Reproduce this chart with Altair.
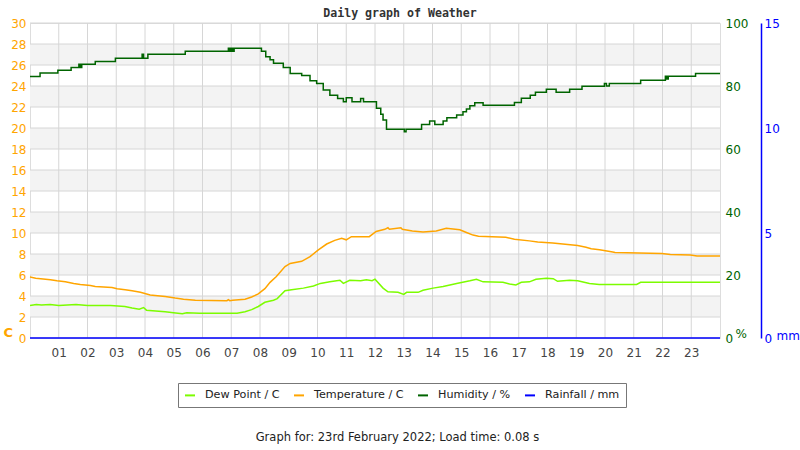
import altair as alt
import pandas as pd

# ---- data ----
hum_t = [0.0, 0.35, 0.97, 1.43, 1.7, 1.75, 1.8, 2.27, 2.97, 3.9, 3.95, 4.1, 5.4, 6.9, 6.95, 7.0, 7.05, 7.1, 7.3,
         8.05, 8.2, 8.35, 8.47, 8.81, 9.05, 9.45, 9.74, 9.97, 10.2, 10.43, 10.7, 10.9, 11.0, 11.2, 11.5, 11.6,
         12.05, 12.2, 12.28, 12.4, 13.02, 13.08, 13.62, 13.9, 14.08, 14.37, 14.5, 14.84, 15.06, 15.18, 15.3,
         15.47, 15.76, 16.85, 17.09, 17.4, 17.58, 17.96, 18.3, 18.77, 19.2, 19.98, 20.05, 20.15, 21.24, 22.1,
         22.15, 22.2, 23.15, 24.0]
hum_v = [83.0, 84.1, 85.0, 85.9, 86.9, 85.9, 86.9, 87.8, 88.8, 90.1, 88.8, 90.1, 91.0, 92.0, 91.0, 92.0, 91.0, 92.0, 92.0,
         91.0, 89.3, 88.3, 87.2, 85.9, 84.0, 83.3, 81.7, 80.8, 78.7, 77.1, 76.0, 75.0, 76.3, 75.0, 76.0, 75.0,
         72.9, 71.0, 69.2, 66.3, 65.5, 66.3, 67.8, 68.9, 67.8, 68.9, 69.9, 70.8, 71.8, 72.7, 73.7,
         74.7, 73.9, 74.8, 76.1, 77.1, 78.0, 79.0, 78.0, 79.0, 79.9, 80.8, 80.0, 80.8, 81.8, 83.1,
         82.2, 83.1, 84.0, 84.0]

temp_t = [0.0, 0.2, 0.71, 0.94, 1.23, 1.52, 1.75, 2.1, 2.27, 2.85, 3.03, 3.31, 3.55, 3.84, 4.18, 4.7, 5.05, 5.34,
          5.75, 6.85, 6.9, 6.95, 7.05, 7.48, 7.71, 7.94, 8.17, 8.35, 8.57, 8.87, 9.05, 9.45, 9.74, 10.03, 10.32,
          10.6, 10.84, 11.0, 11.18, 11.8, 12.04, 12.34, 12.45, 12.5, 12.9, 12.95, 13.3, 13.67, 14.13, 14.48,
          14.95, 15.18, 15.41, 15.6, 16.55, 16.85, 17.37, 17.66, 18.18, 18.53, 19.05, 19.34, 19.52, 19.81,
          20.27, 20.35, 21.98, 22.27, 22.97, 23.2, 24.0]
temp_v = [5.8, 5.7, 5.55, 5.45, 5.35, 5.2, 5.1, 5.0, 4.9, 4.8, 4.7, 4.6, 4.5, 4.35, 4.1, 3.95, 3.8, 3.7,
          3.6, 3.55, 3.65, 3.55, 3.6, 3.7, 3.9, 4.2, 4.7, 5.3, 5.85, 6.8, 7.1, 7.3, 7.75, 8.4, 8.95,
          9.3, 9.5, 9.35, 9.65, 9.65, 10.15, 10.35, 10.5, 10.35, 10.5, 10.35, 10.2, 10.1, 10.2, 10.45,
          10.3, 10.05, 9.8, 9.7, 9.6, 9.4, 9.25, 9.15, 9.05, 8.95, 8.8, 8.65, 8.5, 8.4,
          8.2, 8.15, 8.05, 7.95, 7.9, 7.8, 7.8]

dew_t = [0.0, 0.22, 0.4, 0.7, 1.0, 1.3, 1.6, 2.0, 2.8, 3.3, 3.55, 3.8, 3.95, 4.05, 4.7, 4.99, 5.3, 5.45, 5.9,
         7.2, 7.48, 7.71, 7.94, 8.17, 8.47, 8.6, 8.87, 9.1, 9.51, 9.86, 10.1, 10.43, 10.78, 10.9, 11.12, 11.5,
         11.7, 11.9, 12.0, 12.28, 12.45, 12.8, 13.0, 13.1, 13.5, 13.67, 14.02, 14.37, 14.84, 15.3, 15.53,
         15.76, 16.45, 16.68, 16.9, 17.09, 17.37, 17.6, 17.96, 18.2, 18.35, 18.77, 19.05, 19.46, 19.8, 21.1,
         21.24, 24.0]
dew_v = [3.1, 3.2, 3.15, 3.2, 3.1, 3.15, 3.2, 3.1, 3.1, 3.0, 2.85, 2.75, 2.9, 2.65, 2.5, 2.4, 2.3, 2.4, 2.35,
         2.35, 2.5, 2.7, 3.0, 3.4, 3.6, 3.75, 4.5, 4.6, 4.75, 4.95, 5.2, 5.35, 5.5, 5.2, 5.5, 5.45,
         5.55, 5.45, 5.6, 4.75, 4.4, 4.35, 4.15, 4.35, 4.35, 4.55, 4.75, 4.9, 5.2, 5.45, 5.6,
         5.35, 5.3, 5.15, 5.05, 5.3, 5.35, 5.6, 5.7, 5.65, 5.4, 5.5, 5.45, 5.2, 5.1, 5.1,
         5.3, 5.3]

rain_t = [0.0, 24.0]
rain_v = [0.0, 0.0]

series_names = ["Dew Point / C", "Temperature / C", "Humidity / %", "Rainfall / mm"]
series_colors = ["#7cfc00", "#ffa500", "#006400", "#0000ff"]

hour_ticks = list(range(1, 24))
temp_ticks = list(range(0, 31, 2))
hum_ticks = [0, 20, 40, 60, 80, 100]
rain_ticks = [0, 5, 10, 15]
band_lo = list(range(2, 27, 4))
band_hi = [b + 2 for b in band_lo]

FONT = "DejaVu Sans"
GRID = "#d6d6d6"

# ---- tables ----
hum_df = pd.DataFrame({"t": hum_t, "value": hum_v, "series": series_names[2]})
temp_df = pd.DataFrame({"t": temp_t, "value": temp_v, "series": series_names[1]})
dew_df = pd.DataFrame({"t": dew_t, "value": dew_v, "series": series_names[0]})
rain_df = pd.DataFrame({"t": rain_t, "value": rain_v, "series": series_names[3]})
band_df = pd.DataFrame({"lo": band_lo, "hi": band_hi})
hgrid_df = pd.DataFrame({"level": temp_ticks})
vgrid_df = pd.DataFrame({"hour": hour_ticks})

xscale = alt.Scale(domain=[0, 24], nice=False, zero=False)
xaxis = alt.Axis(values=hour_ticks, labelExpr="datum.value < 10 ? '0' + datum.value : '' + datum.value",
                 grid=False, domain=False, ticks=False, labelPadding=9, labelFontSize=12,
                 labelColor="#444", labelFont=FONT,
                 title="Graph for: 23rd February 2022; Load time: 0.08 s",
                 titleFont=FONT, titleFontSize=11.5, titleFontWeight="normal", titleColor="#222",
                 titleX=367, titleY=99, titleAlign="center", titleBaseline="middle")

tscale = alt.Scale(domain=[0, 30], nice=False, zero=False)
taxis = alt.Axis(values=temp_ticks, grid=False, domain=False, ticks=False, labelPadding=4,
                 labelColor="#ffa500", labelFontSize=12, labelFont=FONT,
                 title="C", titleColor="#ffa500", titleFont=FONT, titleFontSize=13, titleFontWeight="bold",
                 titleAngle=0, titleX=-27, titleY=309, titleAlign="left", titleBaseline="middle")

color = alt.Color("series:N", scale=alt.Scale(domain=series_names, range=series_colors),
                  legend=alt.Legend(title=None, orient="none", legendX=148, legendY=360,
                                    direction="horizontal", strokeColor="#777", fillColor="white",
                                    padding=6, columnPadding=10, symbolType="stroke", symbolSize=100,
                                    symbolStrokeWidth=2, labelFont=FONT, labelFontSize=11.2,
                                    labelColor="#222", labelOffset=9))

x_enc = alt.X("t:Q", scale=xscale, axis=xaxis)

bands = alt.Chart(band_df).mark_rect(color="#f3f3f3").encode(
    x=alt.datum(0, scale=xscale, axis=xaxis), x2=alt.datum(24),
    y=alt.Y("lo:Q", scale=tscale, axis=taxis), y2="hi:Q")

hgrid = alt.Chart(hgrid_df).mark_rule(color=GRID, strokeWidth=1).encode(
    y=alt.Y("level:Q", scale=tscale, axis=taxis))

vgrid = alt.Chart(vgrid_df).mark_rule(color=GRID, strokeWidth=1).encode(
    x=alt.X("hour:Q", scale=xscale, axis=xaxis))

dew = alt.Chart(dew_df).mark_line(strokeWidth=1.5, interpolate="linear").encode(
    x=x_enc, y=alt.Y("value:Q", scale=tscale, axis=taxis), color=color)

temp = alt.Chart(temp_df).mark_line(strokeWidth=1.5, interpolate="linear").encode(
    x=x_enc, y=alt.Y("value:Q", scale=tscale, axis=taxis), color=color)

temp_layer = alt.layer(bands, hgrid, vgrid, dew, temp)

hum = alt.Chart(hum_df).mark_line(strokeWidth=1.5, interpolate="step-after").encode(
    x=x_enc,
    y=alt.Y("value:Q", scale=alt.Scale(domain=[0, 100], nice=False),
            axis=alt.Axis(orient="right", values=hum_ticks, grid=False, domain=False, ticks=False,
                          labelPadding=5, labelColor="#006400", labelFontSize=12, labelFont=FONT,
                          title="%", titleColor="#006400", titleFont=FONT, titleFontSize=12,
                          titleFontWeight="normal", titleAngle=0, titleX=15, titleY=310,
                          titleAlign="left", titleBaseline="middle")),
    color=color)

rain = alt.Chart(rain_df).mark_line(strokeWidth=1.5).encode(
    x=x_enc,
    y=alt.Y("value:Q", scale=alt.Scale(domain=[0, 15], nice=False),
            axis=alt.Axis(orient="right", offset=41, values=rain_ticks, grid=False, domain=True,
                          domainColor="#0000ff", domainWidth=1.5, ticks=False,
                          labelPadding=3, labelColor="#0000ff", labelFontSize=12, labelFont=FONT,
                          title="mm", titleColor="#0000ff", titleFont=FONT, titleFontSize=12,
                          titleFontWeight="normal", titleAngle=0, titleX=15, titleY=312,
                          titleAlign="left", titleBaseline="middle")),
    color=color)

chart = alt.layer(temp_layer, hum, rain).resolve_scale(y="independent").properties(
    width=690, height=315,
    title=alt.TitleParams("Daily graph of Weather", font="DejaVu Sans Mono", fontSize=11.6,
                          fontWeight="bold", color="#333", anchor="middle", dx=25, dy=9, offset=6),
    autosize=alt.AutoSizeParams(type="none"),
    padding={"left": 30, "top": 23, "right": 80, "bottom": 112},
).configure_view(stroke=GRID).configure(background="white")

chart.save("out.html", embed_options={"renderer": "svg", "actions": False})
